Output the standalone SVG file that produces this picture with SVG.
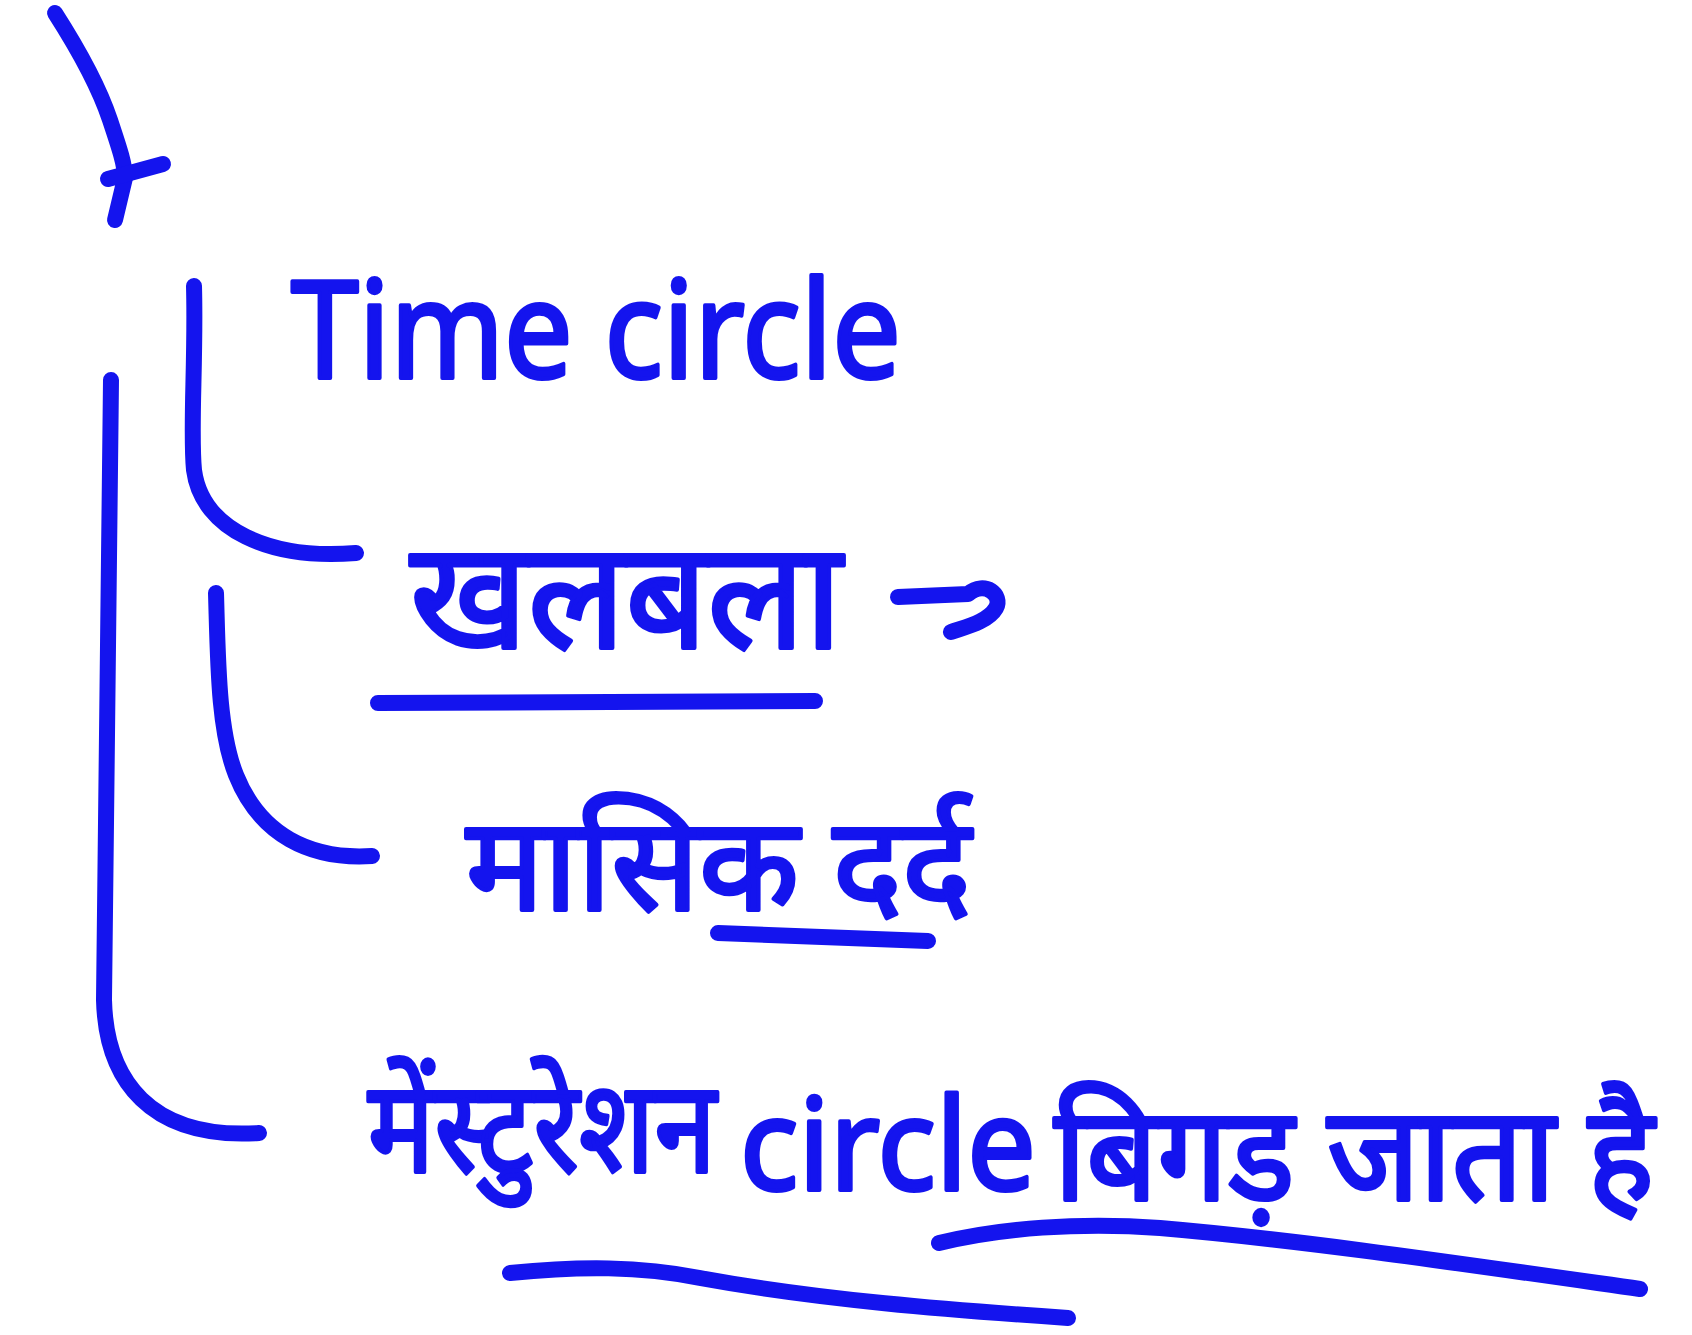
<svg xmlns="http://www.w3.org/2000/svg" width="1692" height="1335" viewBox="0 0 1692 1335">
<style>
.ink{fill:none;stroke:#1414EE;stroke-width:16;stroke-linecap:round;stroke-linejoin:round}
.t{fill:#1414EE;font-family:"Noto Sans","Noto Sans Devanagari","Liberation Sans",sans-serif;stroke:#1414EE;stroke-width:4;stroke-linejoin:round}
</style>
<rect width="1692" height="1335" fill="#ffffff"/>
<g id="connectors">
<path class="ink" d="M55,13 C80,52 100,90 110,120 C120,150 125,165 125,178 L115,220"/>
<path class="ink" d="M108,179 L163,164"/>
<path class="ink" d="M194,286 C196,360 190,430 194,470 C202,530 270,560 356,553"/>
<path class="ink" d="M216,593 C218,660 218,730 236,775 C260,835 310,860 372,856"/>
<path class="ink" d="M111,380 L104,1000 C106,1080 150,1140 259,1133"/>
<path class="ink" d="M898,597 L968,594 C985,580 1003,595 996,608 C988,622 965,627 951,632"/>
</g>
<g id="node-time-circle">
<text class="t" x="291" y="378" font-size="135" textLength="610" lengthAdjust="spacingAndGlyphs">Time circle</text>
</g>
<g id="node-khalbala">
<text class="t" x="410" y="648" font-size="150" textLength="432" lengthAdjust="spacingAndGlyphs">खलबला</text>
<path class="ink" d="M378,703 L815,701"/>
</g>
<g id="node-masik-dard">
<text class="t" x="466" y="910" font-size="130" textLength="505" lengthAdjust="spacingAndGlyphs">मासिक दर्द</text>
<path class="ink" d="M718,933 L928,941"/>
</g>
<g id="node-menstruation">
<text class="t" x="368" y="1172" font-size="128" textLength="348" lengthAdjust="spacingAndGlyphs">मेंस्टुरेशन</text>
<text class="t" x="740" y="1190" font-size="128" textLength="296" lengthAdjust="spacingAndGlyphs">circle</text>
<text class="t" x="1054" y="1200" font-size="132" textLength="600" lengthAdjust="spacingAndGlyphs">बिगड़ जाता है</text>
<path class="ink" d="M510,1273 C580,1266 640,1266 700,1278 C820,1300 950,1310 1068,1318"/>
<path class="ink" d="M939,1243 C1000,1228 1080,1222 1160,1228 C1300,1240 1450,1262 1640,1289"/>
</g>
</svg>
